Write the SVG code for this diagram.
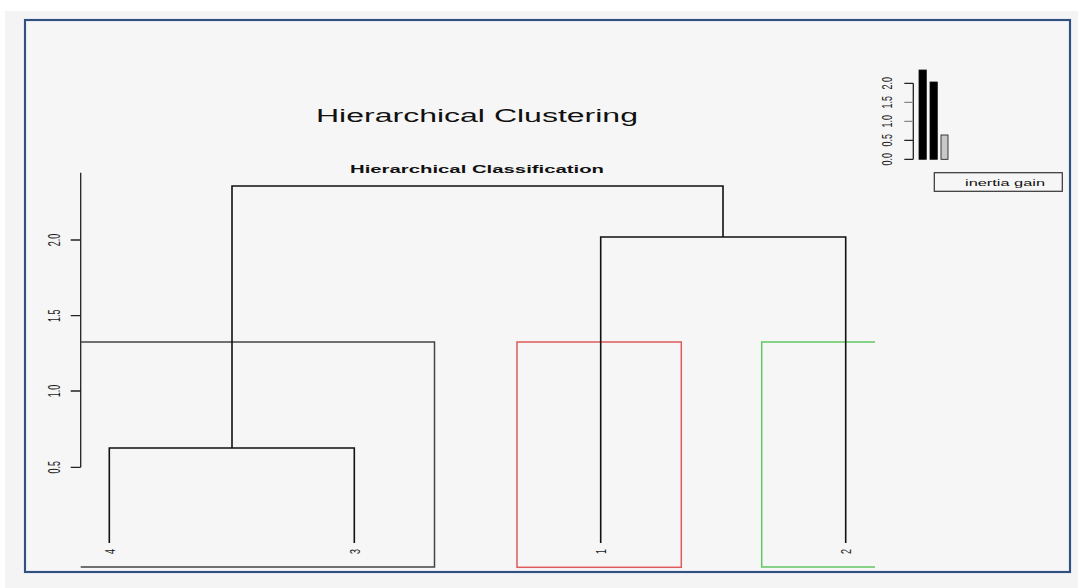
<svg xmlns="http://www.w3.org/2000/svg" width="1078" height="588" viewBox="0 0 1078 588">
<style>
.ln{fill:none;stroke:#111;stroke-width:1.6}
.tk{fill:none;stroke:#222;stroke-width:1.3}
.lab{font-family:"Liberation Sans",Arial,sans-serif;fill:#111}
.num{font-family:"Liberation Sans",Arial,sans-serif;font-size:9px;fill:#1a1a1a}
</style>
<rect x="0" y="0" width="1078" height="588" fill="#ffffff"/>
<rect x="5" y="11" width="1073" height="577" fill="#f4f4f4"/>
<rect x="25" y="20" width="1045" height="552" fill="#f7f6f6" stroke="#cfdcee" stroke-width="3"/>
<rect x="25" y="20" width="1045" height="552" fill="none" stroke="#34507e" stroke-width="2"/>

<g id="title">
<text class="lab" x="316" y="121.7" font-size="17.5" textLength="322" lengthAdjust="spacingAndGlyphs">Hierarchical Clustering</text>
<text class="lab" x="350" y="173.3" font-size="10.5" font-weight="bold" textLength="254" lengthAdjust="spacingAndGlyphs">Hierarchical Classification</text>
</g>

<g id="y-axis">
<path class="tk" d="M80.7,172.7V467.3M70.7,240H80.7M70.7,315.7H80.7M70.7,391H80.7M70.7,467.3H80.7"/>
<text class="num" text-anchor="middle" dy="0.35em" transform="translate(54,240) scale(1.8,1) rotate(-90)">2.0</text>
<text class="num" text-anchor="middle" dy="0.35em" transform="translate(54,315.7) scale(1.8,1) rotate(-90)">1.5</text>
<text class="num" text-anchor="middle" dy="0.35em" transform="translate(54,391) scale(1.8,1) rotate(-90)">1.0</text>
<text class="num" text-anchor="middle" dy="0.35em" transform="translate(54,467.3) scale(1.8,1) rotate(-90)">0.5</text>
</g>

<g id="cluster-boxes">
<path d="M80.7,342H434.5V567H80.7" fill="none" stroke="#444" stroke-width="1.5"/>
<rect x="517" y="342" width="164.3" height="225.3" fill="none" stroke="#e05a5a" stroke-width="1.5"/>
<path d="M875,342H761.7V567H875" fill="none" stroke="#62c862" stroke-width="1.5"/>
</g>

<g id="connectors">
<path class="ln" d="M109.3,543V448H354.3V543"/>
<path class="ln" d="M600.7,543V237H845.7V543"/>
<path class="ln" d="M232,448V186H723V237"/>
</g>

<g id="leaf-4"><text class="num" font-size="10" text-anchor="middle" dy="0.35em" transform="translate(110,551.5) scale(1.7,1) rotate(-90)">4</text></g>
<g id="leaf-3"><text class="num" font-size="10" text-anchor="middle" dy="0.35em" transform="translate(354.5,551.5) scale(1.7,1) rotate(-90)">3</text></g>
<g id="leaf-1"><text class="num" font-size="10" text-anchor="middle" dy="0.35em" transform="translate(600.5,551.5) scale(1.7,1) rotate(-90)">1</text></g>
<g id="leaf-2"><text class="num" font-size="10" text-anchor="middle" dy="0.35em" transform="translate(846,551.5) scale(1.7,1) rotate(-90)">2</text></g>

<g id="inertia-inset">
<path class="tk" d="M913.3,83.3V159.3M904.3,83.3H913.3M904.3,140.3H913.3M904.3,159.3H913.3"/>
<path d="M904.3,102.3H913.3M904.3,121.3H913.3" stroke="#888" stroke-width="1.3"/>
<rect x="919" y="70" width="7.3" height="89.3" fill="#000" stroke="#111" stroke-width="0.8"/>
<rect x="930" y="82" width="7.3" height="77.3" fill="#000" stroke="#111" stroke-width="0.8"/>
<rect x="941" y="135" width="7" height="24.3" fill="#c8c8c8" stroke="#111" stroke-width="0.8"/>
<text class="num" font-size="8.5" text-anchor="middle" dy="0.35em" transform="translate(887,159.3) scale(1.7,1) rotate(-90)">0.0</text>
<text class="num" font-size="8.5" text-anchor="middle" dy="0.35em" transform="translate(887,140.3) scale(1.7,1) rotate(-90)">0.5</text>
<text class="num" font-size="8.5" text-anchor="middle" dy="0.35em" transform="translate(887,121.3) scale(1.7,1) rotate(-90)">1.0</text>
<text class="num" font-size="8.5" text-anchor="middle" dy="0.35em" transform="translate(887,102.3) scale(1.7,1) rotate(-90)">1.5</text>
<text class="num" font-size="8.5" text-anchor="middle" dy="0.35em" transform="translate(887,83.3) scale(1.7,1) rotate(-90)">2.0</text>
<rect x="934.3" y="172.7" width="128" height="18.6" fill="#f7f6f6" stroke="#333" stroke-width="1.2"/>
<text class="lab" x="965" y="186.3" font-size="9" textLength="80" lengthAdjust="spacingAndGlyphs">inertia gain</text>
</g>
</svg>
